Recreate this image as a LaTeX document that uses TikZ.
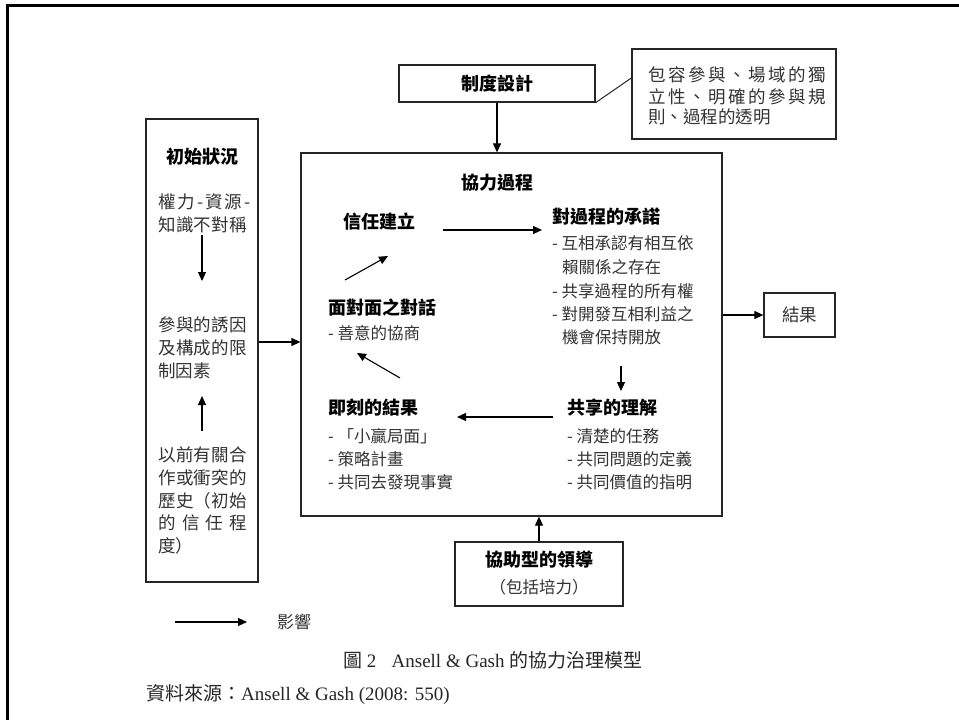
\documentclass[tikz,border=0pt]{standalone}
\usepackage{fontspec}
\setmainfont{Liberation Serif}
\newfontfamily\cjk{Noto Sans CJK TC}
\usetikzlibrary{arrows.meta}
\newcommand{\spr}[2]{\makebox[#1][s]{#2}}
\begin{document}
\begin{tikzpicture}[x=1pt,y=-1pt,
  box/.style={draw=black!85, line width=1.3pt, inner sep=0pt},
  arr/.style={-{Triangle[length=9pt,width=8pt]}, line width=1.1pt, black},
  body/.style={font=\cjk\fontsize{16.5}{20}\selectfont, text=black!80, inner sep=0pt, anchor=west},
  lbody/.style={font=\cjk\fontsize{17.5}{20}\selectfont, text=black!80, inner sep=0pt, anchor=west},
  ttl/.style={font=\cjk\bfseries\fontsize{18}{22}\selectfont, inner sep=0pt},
  captext/.style={font=\fontsize{19}{22}\selectfont, text=black!85, inner sep=0pt, anchor=west},
]
\useasboundingbox (0,0) rectangle (959,720);
\fill[white] (0,0) rectangle (959,720);
\draw[line width=3pt, line join=miter] (7,720) -- (7,5) -- (959,5);

% boxes
\node[box, minimum width=112pt, minimum height=463pt] (init) at (202,350.5) {};
\node[box, minimum width=421pt, minimum height=363pt] (main) at (511.5,334.5) {};
\node[box, minimum width=196pt, minimum height=37pt] (inst) at (497,83.5) {};
\node[box, minimum width=204pt, minimum height=90pt] (note) at (734,94) {};
\node[box, minimum width=71pt, minimum height=44pt] (res) at (799.5,315) {};
\node[box, minimum width=168pt, minimum height=64pt] (lead) at (539,574) {};

% box texts
\node[ttl] (instT) at (inst.center) {制度設計};
\node[lbody] (n1) at (648,75) {\spr{178pt}{包\hfill 容\hfill 參\hfill 與\hfill 、\hfill 場\hfill 域\hfill 的\hfill 獨}};
\node[lbody] (n2) at (648,97) {\spr{178pt}{立\hfill 性\hfill 、\hfill 明\hfill 確\hfill 的\hfill 參\hfill 與\hfill 規}};
\node[lbody] (n3) at (648,117) {則、過程的透明};
\node[lbody, anchor=center] (resT) at (res.center) {結果};
\node[ttl] (leadT) at (539,560) {協助型的領導};
\node[body, anchor=center] (leadS) at (539,587) {（包括培力）};

% initial conditions
\node[ttl] (initT) at (202,157) {初始狀況};
\node[lbody] (l1) at (158,202) {\spr{92pt}{權\hfill 力\hfill -\hfill 資\hfill 源\hfill -}};
\node[lbody] (l2) at (158,225) {\spr{89pt}{知\hfill 識\hfill 不\hfill 對\hfill 稱}};
\node[lbody] (l3) at (158,325) {\spr{89pt}{參\hfill 與\hfill 的\hfill 誘\hfill 因}};
\node[lbody] (l4) at (158,348) {\spr{89pt}{及\hfill 構\hfill 成\hfill 的\hfill 限}};
\node[lbody] (l5) at (158,371) {制因素};
\node[lbody] (l6) at (158,455) {\spr{89pt}{以\hfill 前\hfill 有\hfill 關\hfill 合}};
\node[lbody] (l7) at (158,478) {\spr{89pt}{作\hfill 或\hfill 衝\hfill 突\hfill 的}};
\node[lbody] (l8) at (158,501) {\spr{89pt}{歷\hfill 史\hfill （\hfill 初\hfill 始}};
\node[lbody] (l9) at (158,523) {\spr{89pt}{的\hfill 信\hfill 任\hfill 程}};
\node[lbody] (l10) at (158,546) {度）};

% collaborative process
\node[ttl] (procT) at (497,183) {協力過程};
\node[ttl, anchor=west] (trust) at (343,222) {信任建立};
\node[ttl, anchor=west] (commit) at (552,217) {對過程的承諾};
\node[body] (c1) at (552,243) {- 互相承認有相互依};
\node[body] (c2) at (562,267) {賴關係之存在};
\node[body] (c3) at (552,291) {- 共享過程的所有權};
\node[body] (c4) at (552,314) {- 對開發互相利益之};
\node[body] (c5) at (562,337) {機會保持開放};
\node[ttl, anchor=west] (dial) at (328,308) {面對面之對話};
\node[body] (d1) at (328,333) {- 善意的協商};
\node[ttl, anchor=west] (outc) at (328,408) {即刻的結果};
\node[body] (o1) at (328,436) {- 「小贏局面」};
\node[body] (o2) at (328,459) {- 策略計畫};
\node[body] (o3) at (328,482) {- 共同去發現事實};
\node[ttl, anchor=west] (share) at (567,408) {共享的理解};
\node[body] (s1) at (567,436) {- 清楚的任務};
\node[body] (s2) at (567,459) {- 共同問題的定義};
\node[body] (s3) at (567,482) {- 共同價值的指明};

% legend and captions
\coordinate (lg1) at (175,622);
\coordinate (lg2) at (247,622);
\node[lbody, font=\cjk\fontsize{17}{20}\selectfont] (lgT) at (277,622) {影響};
\node[captext] (capT) at (343,660) {{\cjk 圖} 2{\cjk\hspace{0.55em}} Ansell \& Gash {\cjk 的協力治理模型}};
\node[captext] (srcT) at (146,695) {{\cjk 資料來源：}Ansell \& Gash (2008: 550)};

% connector coordinates
\coordinate (a1s) at (202,235);
\coordinate (a1e) at (202,281);
\coordinate (a2s) at (202,431);
\coordinate (a2e) at (202,396);
\coordinate (yin) at (0,342);
\coordinate (yres) at (0,315);
\coordinate (ncon) at (note.west |- 0,78);
\coordinate (t1s) at (443,230);
\coordinate (t1e) at (542,230);
\coordinate (t2s) at (621,366);
\coordinate (t2e) at (621,391);
\coordinate (t3s) at (553,417);
\coordinate (t3e) at (457,417);
\coordinate (t4s) at (400,378);
\coordinate (t4e) at (357,353);
\coordinate (t5s) at (345,280);
\coordinate (t5e) at (388,256);

% connectors
\draw[arr] (a1s) -- (a1e);
\draw[arr] (a2s) -- (a2e);
\draw[arr] (init.east |- yin) -- (main.west |- yin);
\draw[arr] (main.east |- yres) -- (res.west |- yres);
\draw[arr] (inst.south) -- (main.north -| inst.south);
\draw[arr] (lead.north) -- (main.south -| lead.north);
\draw[line width=1pt, black!85] (inst.south east) -- (ncon);
\draw[arr] (t1s) -- (t1e);
\draw[arr] (t2s) -- (t2e);
\draw[arr] (t3s) -- (t3e);
\draw[arr] (t4s) -- (t4e);
\draw[arr] (t5s) -- (t5e);
\draw[arr] (lg1) -- (lg2);
\end{tikzpicture}
\end{document}
